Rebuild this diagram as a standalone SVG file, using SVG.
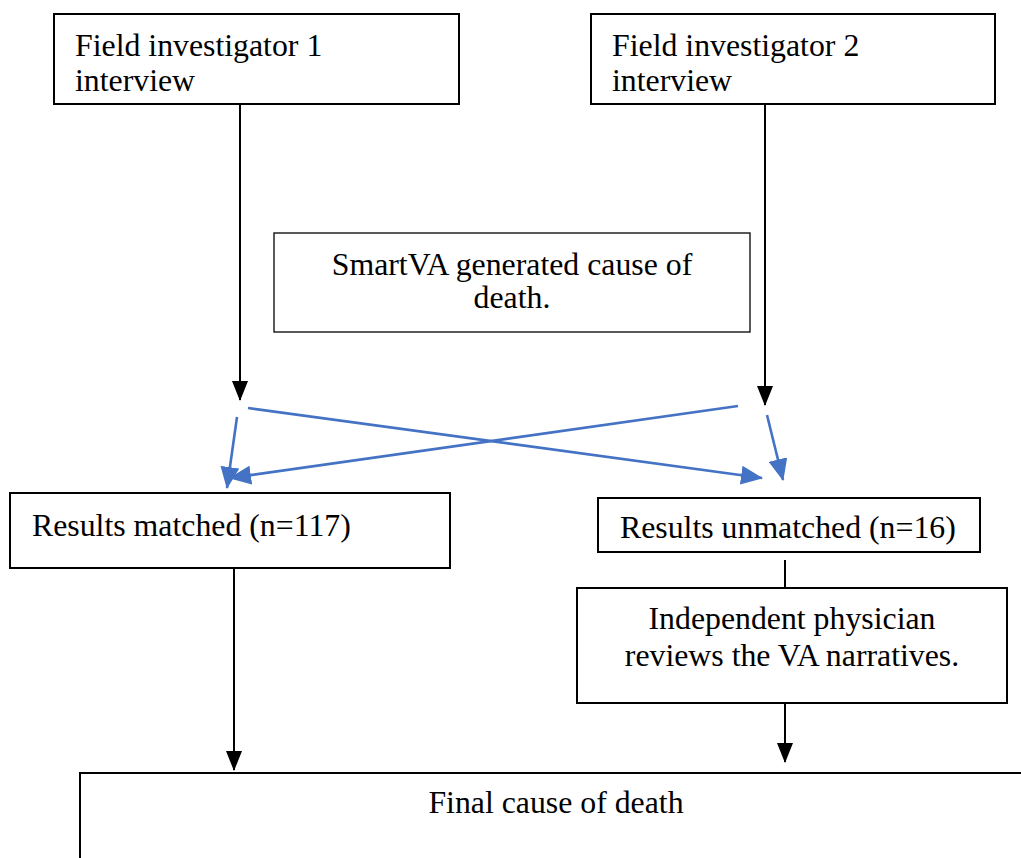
<svg xmlns="http://www.w3.org/2000/svg" width="1021" height="858" viewBox="0 0 1021 858">
<defs>
<style>
.box{fill:#fff;stroke:#000;stroke-width:2}
.thin{fill:#fff;stroke:#000;stroke-width:1.3}
.t{font-family:"Liberation Serif","Times New Roman",serif;font-size:31.8px;fill:#000}
.c{text-anchor:middle}
.k{stroke:#000;stroke-width:2;fill:none}
.b{stroke:#4472C4;stroke-width:2.6;fill:none}
</style>
<marker id="ak" markerWidth="20" markerHeight="16" refX="19" refY="8" orient="auto" markerUnits="userSpaceOnUse" viewBox="0 0 20 16"><path d="M0,0 L20,8 L0,16 z" fill="#000"/></marker>
<marker id="ab" markerWidth="22" markerHeight="19" refX="21" refY="9.5" orient="auto" markerUnits="userSpaceOnUse" viewBox="0 0 22 19"><path d="M0,0 L22,9.5 L0,19 z" fill="#4472C4"/></marker>
</defs>
<rect width="1021" height="858" fill="#fff"/>
<g id="fi1"><rect class="box" x="54" y="14" width="405" height="90"/><text class="t" x="75" y="56">Field investigator 1</text><text class="t" x="75" y="91">interview</text></g>
<g id="fi2"><rect class="box" x="591" y="14" width="404" height="90"/><text class="t" x="612" y="56">Field investigator 2</text><text class="t" x="612" y="91">interview</text></g>
<g id="smartva"><rect class="thin" x="274" y="233" width="476" height="99"/><text class="t c" x="512" y="275">SmartVA generated cause of</text><text class="t c" x="512" y="308">death.</text></g>
<g id="matched"><rect class="box" x="10" y="493" width="440" height="75"/><text class="t" x="32" y="536">Results matched (n=117)</text></g>
<g id="unmatched"><rect class="box" x="598" y="498" width="382" height="54"/><text class="t" x="620" y="538">Results unmatched (n=16)</text></g>
<g id="physician"><rect class="box" x="577" y="588" width="430" height="115"/><text class="t c" x="792" y="629">Independent physician</text><text class="t c" x="792" y="666">reviews the VA narratives.</text></g>
<g id="final"><rect class="box" x="80" y="773" width="960" height="100"/><text class="t c" x="556" y="813">Final cause of death</text></g>
<g id="connectors">
<line class="k" x1="240" y1="104" x2="240" y2="400" marker-end="url(#ak)"/>
<line class="k" x1="765" y1="104" x2="765" y2="405" marker-end="url(#ak)"/>
<line class="b" x1="237" y1="417" x2="227" y2="488" marker-end="url(#ab)"/>
<line class="b" x1="767" y1="415" x2="783" y2="480" marker-end="url(#ab)"/>
<line class="b" x1="248" y1="408" x2="762" y2="478" marker-end="url(#ab)"/>
<line class="b" x1="738" y1="406" x2="230" y2="478" marker-end="url(#ab)"/>
<line class="k" x1="234" y1="568" x2="234" y2="770" marker-end="url(#ak)"/>
<line class="k" x1="785" y1="560" x2="785" y2="588"/>
<line class="k" x1="785" y1="703" x2="785" y2="762" marker-end="url(#ak)"/>
</g>
</svg>
